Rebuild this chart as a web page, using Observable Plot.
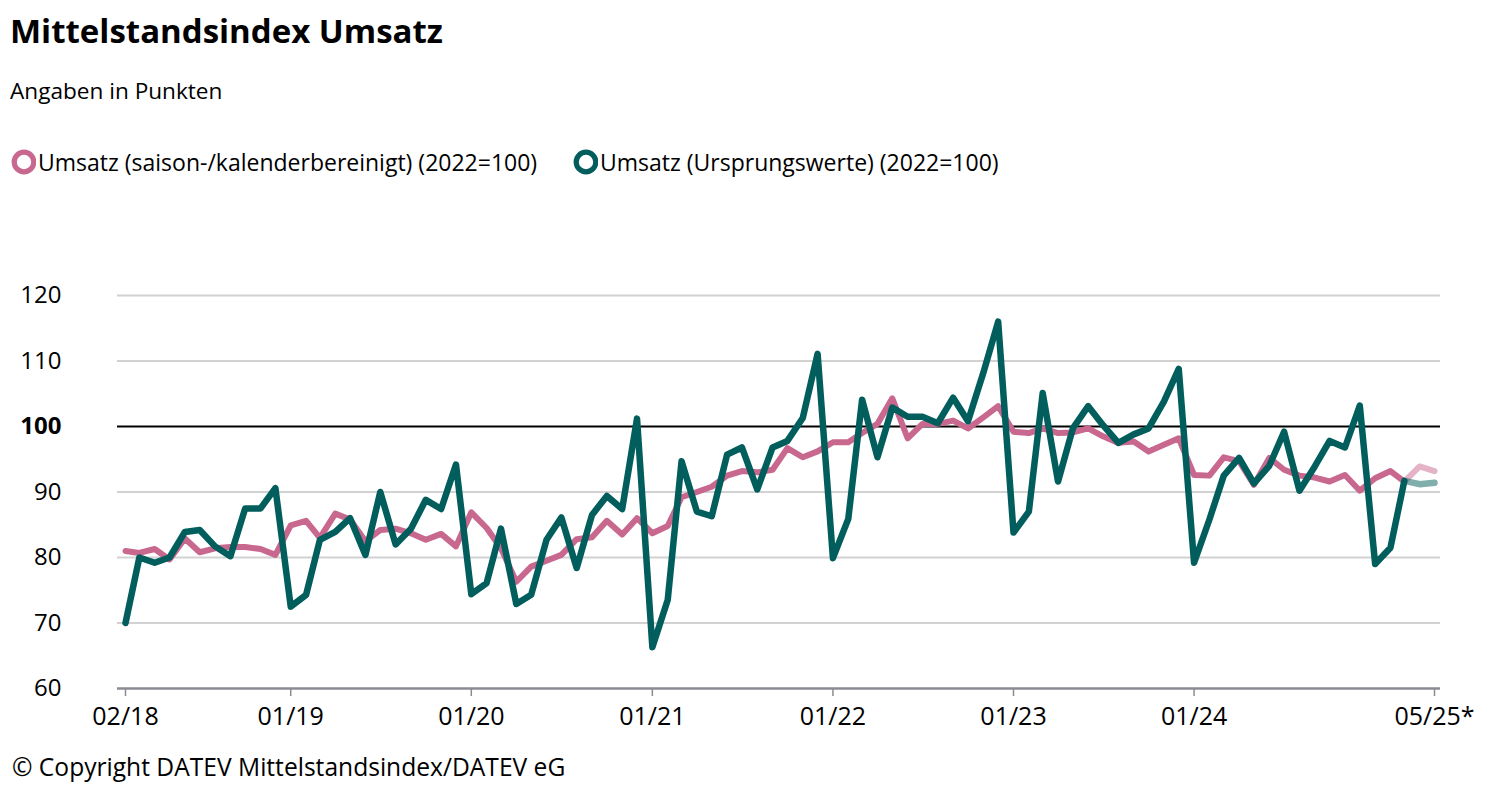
<!DOCTYPE html>
<html>
<head>
<meta charset="utf-8">
<script src="https://cdn.jsdelivr.net/npm/d3@7"></script>
<script src="https://cdn.jsdelivr.net/npm/@observablehq/plot@0.6"></script>
<style>
  html, body { margin: 0; padding: 0; background: #fff; }
  body { width: 1500px; height: 789px; position: relative; overflow: hidden;
         font-family: "Open Sans", "Noto Sans", sans-serif; color: #000; }
  #title { position: absolute; left: 10px; top: 14px; font-size: 33px; font-weight: 700; line-height: 1; white-space: nowrap; }
  #subtitle { position: absolute; left: 10px; top: 80px; font-size: 22.6px; line-height: 1; white-space: nowrap; }
  #legend { position: absolute; left: 10px; top: 149px; height: 26px; font-size: 23px; line-height: 26px; white-space: nowrap; }
  .item { position: absolute; top: 0; display: flex; align-items: center; height: 26px; }
  .item svg { margin-right: 2px; flex: none; }
  #chart { position: absolute; left: 0; top: 270px; }
  #caption { position: absolute; left: 12px; top: 755px; font-size: 24.6px; line-height: 1; white-space: nowrap; }
</style>
</head>
<body>
<div id="title"></div>
<div id="subtitle"></div>
<div id="legend"></div>
<div id="chart"></div>
<div id="caption"></div>
<script>
// ---- data ----
const titleText = "Mittelstandsindex Umsatz";
const subtitleText = "Angaben in Punkten";
const captionText = "© Copyright DATEV Mittelstandsindex/DATEV eG";
const seriesNames = ["Umsatz (saison-/kalenderbereinigt) (2022=100)", "Umsatz (Ursprungswerte) (2022=100)"];
const seriesColors = ["#c9688e", "#025e5c"];
const startMonth = "2018-02";
const endMonth = "2025-05";
// saison-/kalenderbereinigt, 02/2018 .. 05/2025
const adjusted = [
  81.0, 80.7, 81.3, 79.7, 82.9, 80.8, 81.4, 81.6, 81.6, 81.3, 80.4,
  84.9, 85.6, 83.0, 86.7, 85.8, 82.5, 84.2, 84.4, 83.7, 82.7, 83.6, 81.7,
  86.9, 84.5, 81.4, 76.3, 78.6, 79.5, 80.4, 82.8, 83.1, 85.6, 83.5, 86.0,
  83.7, 84.8, 89.2, 90.0, 90.8, 92.5, 93.2, 93.0, 93.4, 96.7, 95.3, 96.2,
  97.6, 97.6, 99.0, 100.4, 104.3, 98.2, 100.4, 100.4, 100.9, 99.7, 101.4, 103.1,
  99.2, 99.0, 99.7, 99.0, 99.1, 99.7, 98.5, 97.5, 97.7, 96.2, 97.2, 98.2,
  92.6, 92.5, 95.3, 94.7, 91.1, 95.2, 93.4, 92.5, 92.2, 91.6, 92.6, 90.2,
  92.1, 93.2, 91.6, 93.9, 93.2
];
// Ursprungswerte, 02/2018 .. 05/2025
const original = [
  70.0, 80.0, 79.2, 80.0, 83.9, 84.2, 81.7, 80.2, 87.5, 87.5, 90.6,
  72.5, 74.3, 82.7, 83.9, 86.0, 80.4, 90.0, 82.0, 84.4, 88.8, 87.4, 94.2,
  74.4, 76.1, 84.4, 72.9, 74.3, 82.7, 86.1, 78.4, 86.5, 89.4, 87.4, 101.2,
  66.3, 73.5, 94.7, 87.0, 86.3, 95.7, 96.8, 90.4, 96.8, 97.8, 101.3, 111.1,
  79.9, 85.9, 104.1, 95.3, 102.9, 101.5, 101.5, 100.5, 104.4, 100.8, 108.2, 116.0,
  83.8, 87.0, 105.1, 91.6, 99.7, 103.1, 100.2, 97.5, 98.8, 99.7, 103.8, 108.8,
  79.2, 85.8, 92.5, 95.2, 91.3, 94.0, 99.2, 90.2, 93.9, 97.8, 96.8, 103.2,
  79.0, 81.5, 91.7, 91.2, 91.4
];
const provisionalMonths = 2; // last values drawn faded (vorläufig)
const yTicks = [60, 70, 80, 90, 110, 120];
const yRefTick = [100];
const xTickLabels = ["02/18", "01/19", "01/20", "01/21", "01/22", "01/23", "01/24", "05/25*"];

// ---- build ----
const parseM = d3.utcParse("%Y-%m");
const months = d3.utcMonths(parseM(startMonth), d3.utcMonth.offset(parseM(endMonth), 1));
const rows = months.map((date, i) => ({ date, i, adj: adjusted[i], orig: original[i] }));
const lastSolid = rows.length - 1 - provisionalMonths;
const solid = rows.filter(r => r.i <= lastSolid);
const faded = rows.filter(r => r.i >= lastSolid);
const xTickDates = xTickLabels.map(s => {
  const [m, y] = s.replace("*", "").split("/");
  return new Date(Date.UTC(2000 + +y, +m - 1, 1));
});
const labelByTime = new Map(xTickDates.map((d, i) => [+d, xTickLabels[i]]));

document.getElementById("title").textContent = titleText;
document.getElementById("subtitle").textContent = subtitleText;
document.getElementById("caption").textContent = captionText;

const legend = document.getElementById("legend");
const legendX = [0, 562];
seriesNames.forEach((name, k) => {
  const it = document.createElement("div");
  it.className = "item";
  it.style.left = legendX[k] + "px";
  it.innerHTML = `<svg width="26" height="26"><circle cx="14" cy="13" r="9.8" fill="#fff" stroke="${seriesColors[k]}" stroke-width="5.2"/></svg><span></span>`;
  it.querySelector("span").textContent = name;
  legend.appendChild(it);
});

const font = '"Open Sans", "Noto Sans", sans-serif';
const chart = Plot.plot({
  width: 1500,
  height: 470,
  marginTop: 25,
  marginBottom: 52,
  marginLeft: 117,
  marginRight: 60,
  style: { fontFamily: font, fontSize: "24px", color: "#000", background: "transparent", overflow: "visible" },
  x: { type: "utc", domain: [months[0], months[months.length - 1]], insetLeft: 8, insetRight: 6 },
  y: { domain: [60, 120], label: null },
  marks: [
    Plot.ruleY(yTicks.filter(v => v !== 60), { stroke: "#d2d2d2", strokeWidth: 2 }),
    Plot.ruleY(yRefTick, { stroke: "#000", strokeWidth: 2 }),
    Plot.ruleY([60], { stroke: "#8b8b94", strokeWidth: 2.5 }),
    Plot.axisY(yTicks, { tickSize: 0, tickPadding: 56, label: null, fill: "#000", fontSize: 24 }),
    Plot.axisY(yRefTick, { tickSize: 0, tickPadding: 56, label: null, fontWeight: "bold", fill: "#000", fontSize: 24 }),
    Plot.axisX(xTickDates, { tickSize: 8, tickPadding: 11, stroke: "#8b8b94", strokeWidth: 1.5, label: null,
      tickFormat: d => labelByTime.get(+d), fill: "#000", fontSize: 25 }),
    Plot.line(faded, { x: "date", y: "adj", stroke: seriesColors[0], strokeWidth: 6, strokeOpacity: 0.5 }),
    Plot.line(faded, { x: "date", y: "orig", stroke: seriesColors[1], strokeWidth: 6.5, strokeOpacity: 0.5 }),
    Plot.line(solid, { x: "date", y: "adj", stroke: seriesColors[0], strokeWidth: 6 }),
    Plot.line(solid, { x: "date", y: "orig", stroke: seriesColors[1], strokeWidth: 6.5 })
  ]
});
document.getElementById("chart").appendChild(chart);
</script>
</body>
</html>
